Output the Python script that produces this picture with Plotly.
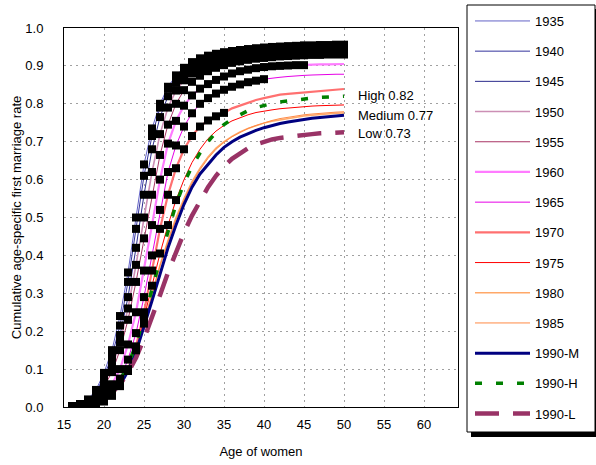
import plotly.graph_objects as go

# ---------------- data ----------------
ages = list(range(16, 51))

c1935 = [0.002,0.008,0.02,0.045,0.09,0.15,0.24,0.355,0.5,0.64,0.735,0.80,0.845,0.875,0.895,0.91,0.92,0.927,0.932,0.936,0.939,0.942,0.944,0.946,0.948,0.949,0.95,0.951,0.952,0.953,0.953,0.954,0.954,0.955,0.955]
c1940 = [0.002,0.007,0.018,0.04,0.08,0.135,0.215,0.33,0.47,0.61,0.715,0.79,0.84,0.87,0.89,0.905,0.916,0.924,0.93,0.935,0.939,0.942,0.944,0.946,0.948,0.95,0.951,0.952,0.953,0.954,0.954,0.955,0.955,0.956,0.956]
c1945 = [0.002,0.006,0.016,0.036,0.07,0.12,0.19,0.29,0.42,0.56,0.68,0.765,0.82,0.855,0.877,0.893,0.905,0.914,0.921,0.927,0.931,0.935,0.938,0.94,0.942,0.944,0.945,0.946,0.947,0.948,0.949,0.949,0.95,0.95,0.95]
c1950 = [0.002,0.005,0.014,0.032,0.062,0.105,0.17,0.26,0.375,0.5,0.62,0.72,0.79,0.835,0.862,0.88,0.893,0.903,0.911,0.917,0.922,0.926,0.929,0.932,0.934,0.936,0.937,0.938,0.939,0.94,0.941,0.941,0.942,0.942,0.942]
c1955 = [0.001,0.004,0.012,0.028,0.054,0.092,0.15,0.23,0.33,0.445,0.56,0.665,0.745,0.80,0.836,0.858,0.874,0.886,0.895,0.902,0.908,0.912,0.916,0.919,0.921,0.923,0.925,0.926,0.927,0.928,0.929,0.929,0.93,0.93,0.93]
c1960 = [0.001,0.003,0.008,0.018,0.035,0.06,0.10,0.165,0.25,0.36,0.48,0.60,0.695,0.755,0.795,0.822,0.84,0.852,0.863,0.872,0.88,0.886,0.89,0.894,0.897,0.899,0.90,0.901,0.902,0.902,0.903,0.904,0.904,0.905,0.905]
c1965 = [0.001,0.002,0.005,0.012,0.024,0.043,0.075,0.125,0.195,0.29,0.40,0.52,0.62,0.69,0.74,0.775,0.80,0.815,0.827,0.837,0.845,0.851,0.857,0.861,0.865,0.868,0.87,0.872,0.874,0.875,0.876,0.877,0.877,0.878,0.878]
c1970 = [0.0005,0.0015,0.004,0.009,0.018,0.033,0.06,0.10,0.16,0.25,0.36,0.47,0.56,0.63,0.68,0.715,0.74,0.756,0.767,0.776,0.788,0.796,0.803,0.81,0.815,0.82,0.824,0.826,0.828,0.83,0.832,0.834,0.835,0.837,0.839]
c1975 = [0.0,0.001,0.003,0.007,0.015,0.03,0.057,0.095,0.15,0.235,0.32,0.405,0.48,0.546,0.60,0.645,0.68,0.708,0.728,0.743,0.755,0.764,0.771,0.777,0.781,0.784,0.787,0.789,0.791,0.793,0.794,0.795,0.796,0.797,0.797]
c1980 = [0.0,0.001,0.003,0.007,0.015,0.03,0.055,0.095,0.15,0.22,0.30,0.375,0.44,0.50,0.55,0.595,0.63,0.66,0.683,0.70,0.714,0.726,0.735,0.743,0.749,0.754,0.758,0.762,0.765,0.768,0.77,0.772,0.774,0.775,0.776]
c1985 = [0.0,0.001,0.003,0.007,0.016,0.032,0.058,0.097,0.152,0.222,0.298,0.372,0.437,0.495,0.546,0.59,0.626,0.656,0.68,0.698,0.713,0.725,0.735,0.743,0.75,0.756,0.761,0.765,0.768,0.771,0.773,0.775,0.777,0.778,0.779]
c1990m = [0.0,0.0,0.003,0.008,0.018,0.035,0.058,0.095,0.145,0.21,0.28,0.35,0.42,0.48,0.535,0.58,0.615,0.64,0.665,0.685,0.70,0.712,0.722,0.73,0.737,0.743,0.748,0.752,0.756,0.759,0.762,0.764,0.766,0.768,0.77]
c1990h = [0.0,0.0,0.003,0.008,0.02,0.04,0.07,0.11,0.165,0.235,0.31,0.39,0.465,0.535,0.59,0.635,0.67,0.70,0.725,0.745,0.76,0.772,0.782,0.79,0.796,0.801,0.805,0.808,0.811,0.813,0.815,0.817,0.818,0.819,0.82]
c1990l = [0.0,0.0,0.002,0.007,0.02,0.04,0.06,0.09,0.13,0.18,0.235,0.295,0.355,0.41,0.46,0.505,0.545,0.58,0.61,0.635,0.655,0.67,0.683,0.693,0.70,0.706,0.71,0.713,0.716,0.718,0.72,0.722,0.723,0.724,0.725]

cohort_names = ["1935","1940","1945","1950","1955","1960","1965","1970","1975","1980","1985"]
cohort_values = [c1935,c1940,c1945,c1950,c1955,c1960,c1965,c1970,c1975,c1980,c1985]
observed_until = [50,50,50,50,50,45,40,35,29,25,20]   # last observed age (black markers)

proj_names = ["1990-M","1990-H","1990-L"]
proj_values = [c1990m, c1990h, c1990l]
proj_labels = ["Medium 0.77", "High 0.82", "Low 0.73"]
proj_label_y = [0.768, 0.821, 0.722]

x_ticks = [15,20,25,30,35,40,45,50,55,60]
y_ticks = [0.0,0.1,0.2,0.3,0.4,0.5,0.6,0.7,0.8,0.9,1.0]

# ---------------- styles ----------------
cohort_colors = ["#6363C6","#33339C","#2B2B8C","#CC8FB5","#A83565","#FF7BFF","#E600E6","#FF7070","#FF0000","#FFA868","#FF8A45"]
cohort_widths = [1,1,1,1.6,1,2.2,1,2.2,1,1.5,1]
proj_colors = ["#000080","#008000","#993366"]
proj_widths = [3,3.5,4.5]
proj_dash = ["solid","7px,14px","24px,14px"]

FONT = "Liberation Sans, Arial, sans-serif"

fig = go.Figure()

for i, (name, vals) in enumerate(zip(cohort_names, cohort_values)):
    fig.add_trace(go.Scatter(
        x=ages, y=vals, mode="lines", name=name,
        line=dict(color=cohort_colors[i], width=cohort_widths[i]),
        legendgroup=name, legendrank=i + 1,
    ))

for i, (name, vals) in enumerate(zip(proj_names, proj_values)):
    fig.add_trace(go.Scatter(
        x=ages, y=vals, mode="lines", name=name,
        line=dict(color=proj_colors[i], width=proj_widths[i], dash=proj_dash[i]),
        legendgroup=name, legendrank=20 + i,
    ))

# observed parts: black square markers
for i, (name, vals) in enumerate(zip(cohort_names, cohort_values)):
    n = observed_until[i] - ages[0] + 1
    fig.add_trace(go.Scatter(
        x=ages[:n], y=vals[:n], mode="markers", showlegend=False,
        marker=dict(symbol="square", size=8, color="black",
                    line=dict(width=0)),
        hoverinfo="skip",
    ))

# labels for projection variants
for lab, yv in zip(proj_labels, proj_label_y):
    fig.add_annotation(x=51.5, y=yv, xref="x", yref="y", text=lab,
                       showarrow=False, xanchor="left", yanchor="middle",
                       font=dict(size=13, color="black", family=FONT))

# geometry (pixels)
W, H = 596, 465
L, R, T, B = 64, 138, 28, 58
pw, ph = W - L - R, H - T - B

def px_x(px):
    return (px - L) / pw

def px_y(py):
    return (H - B - py) / ph

# legend box with shadow
fig.add_shape(type="rect", xref="paper", yref="paper",
              x0=px_x(471), x1=px_x(599), y0=px_y(437), y1=px_y(9),
              fillcolor="black", line=dict(width=0), layer="below")
fig.add_shape(type="rect", xref="paper", yref="paper",
              x0=px_x(467), x1=px_x(595), y0=px_y(432), y1=px_y(5),
              fillcolor="white", line=dict(color="black", width=1), layer="below")

grid = dict(showgrid=True, gridcolor="#A0A0A0", gridwidth=1, griddash="2px,4px")

fig.update_layout(
    width=W, height=H,
    margin=dict(l=L, r=R, t=T, b=B, pad=0, autoexpand=False),
    paper_bgcolor="white", plot_bgcolor="white",
    font=dict(family=FONT, size=13, color="black"),
    showlegend=True,
    legend=dict(
        x=px_x(470), y=px_y(6), xanchor="left", yanchor="top",
        bgcolor="rgba(0,0,0,0)", borderwidth=0,
        font=dict(size=13, family=FONT, color="black"),
        tracegroupgap=10.3, itemwidth=55, maxheight=1000,
    ),
    xaxis=dict(
        range=[15, 64.25], tickvals=x_ticks, ticktext=[str(v) for v in x_ticks],
        showline=True, linecolor="black", linewidth=1, mirror=True,
        ticks="", ticklabelstandoff=5, zeroline=False,
        title=dict(text="Age of women", font=dict(size=13), standoff=16),
        automargin=False, **grid,
    ),
    yaxis=dict(
        range=[0, 1.0], tickvals=y_ticks, ticktext=[f"{v:.1f}" for v in y_ticks],
        showline=True, linecolor="black", linewidth=1, mirror=True,
        ticks="", ticklabelstandoff=17, zeroline=False,
        title=dict(text="Cumulative age-specific first marriage rate", font=dict(size=13), standoff=0),
        automargin=False, **grid,
    ),
)

fig.write_html("out.html",
               config={"displayModeBar": False},
               post_script="document.body.style.margin='0';document.body.style.padding='0';")
